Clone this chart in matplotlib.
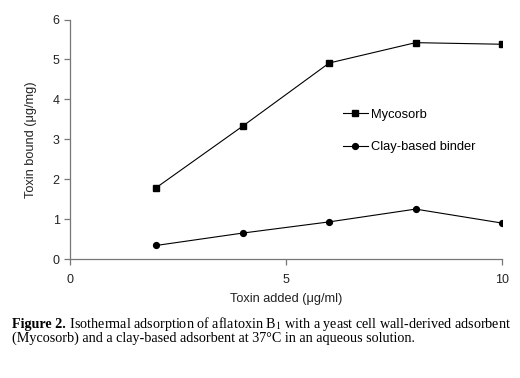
import matplotlib
matplotlib.use("Agg")
import matplotlib.pyplot as plt

toxin_added = [2, 4, 6, 8, 10]
mycosorb = [1.79, 3.33, 4.91, 5.42, 5.38]
clay_binder = [0.34, 0.65, 0.93, 1.25, 0.90]
series_names = ["Mycosorb", "Clay-based binder"]
x_ticks = [0, 5, 10]
y_ticks = [0, 1, 2, 3, 4, 5, 6]

plt.rcParams["font.family"] = ["Liberation Sans", "DejaVu Sans"]
plt.rcParams["mathtext.fontset"] = "stix"

fig = plt.figure(figsize=(5.2, 3.78), dpi=100)
ax = fig.add_axes([70 / 520, 1 - 259 / 378, 432 / 520, 239.5 / 378])

ax.plot(toxin_added, mycosorb, color="black", lw=0.8, marker="s", ms=4.5,
        label=series_names[0])
ax.plot(toxin_added, clay_binder, color="black", lw=0.8, marker="o", ms=4.2,
        label=series_names[1])

ax.set_xlim(0, 10)
ax.set_ylim(0, 6)
ax.set_xticks(x_ticks)
ax.set_yticks(y_ticks)
for s in ["top", "right"]:
    ax.spines[s].set_visible(False)
for s in ["left", "bottom"]:
    ax.spines[s].set_color("#777777")
    ax.spines[s].set_linewidth(0.9)
ax.tick_params(axis="both", colors="#777777", labelcolor="#222222",
               labelsize=9, length=4, width=0.9)
ax.tick_params(axis="x", pad=7)

ax.set_xlabel("Toxin added (μg/ml)", fontsize=9.2, color="#222222", labelpad=5)
ax.set_ylabel("Toxin bound (μg/mg)", fontsize=9.2, color="#222222", labelpad=11)

ax.legend(loc="upper left", bbox_to_anchor=(0.62, 0.65), frameon=False,
          fontsize=9.3, handlelength=1.9, handletextpad=0.3, labelspacing=1.6,
          borderaxespad=0)

# caption
fig.canvas.draw()
r = fig.canvas.get_renderer()
cap_size = 10.2
t1 = fig.text(12 / 520, 1 - 328 / 378, "Figure 2.", family="Liberation Serif",
              weight="bold", fontsize=cap_size, va="baseline")
w = t1.get_window_extent(r).width
fig.text((12 + w) / 520, 1 - 328 / 378,
         " Isothermal adsorption of aflatoxin B$_1$ with a yeast cell wall-derived adsorbent",
         family="Liberation Serif", fontsize=cap_size, va="baseline")
fig.text(12 / 520, 1 - 342 / 378,
         "(Mycosorb) and a clay-based adsorbent at 37°C in an aqueous solution.",
         family="Liberation Serif", fontsize=cap_size, va="baseline")

fig.savefig("out.png", dpi=100)
